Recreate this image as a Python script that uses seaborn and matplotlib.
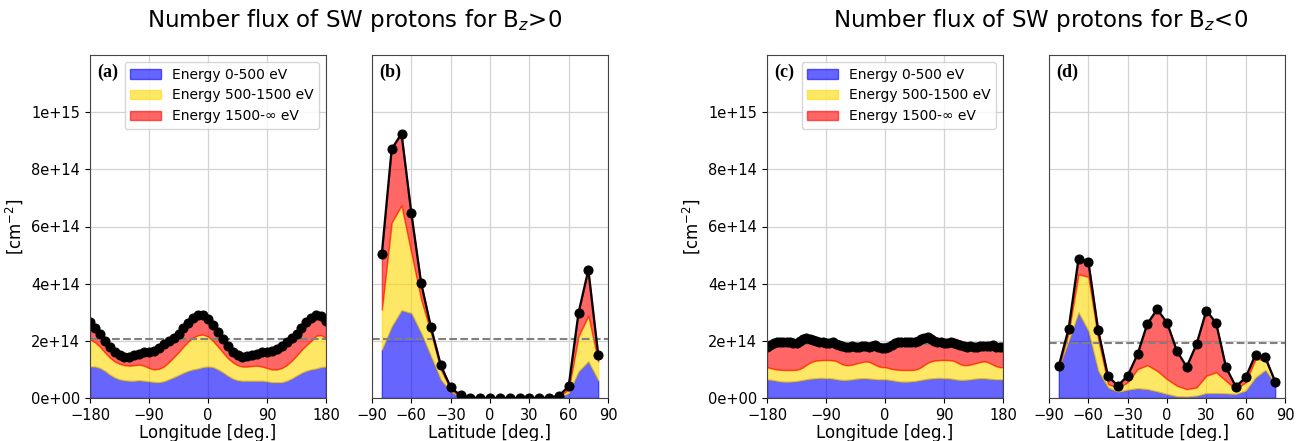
import numpy as np
import matplotlib
matplotlib.use("Agg")
import matplotlib.pyplot as plt
from matplotlib.ticker import FormatStrFormatter
import seaborn as sns

# values, in units of 1e14 cm^-2
UNIT = 1e14

# ---- (a) longitude, Bz>0 ----
lon_a = [-180, -172.5, -165, -157.5, -150, -142.5, -135, -127.5, -120, -112.5,
         -105, -97.5, -90, -82.5, -75, -67.5, -60, -52.5, -45, -37.5,
         -30, -22.5, -15, -7.5, 0, 7.5, 15, 22.5, 30, 37.5,
         45, 52.5, 60, 67.5, 75, 82.5, 90, 97.5, 105, 112.5,
         120, 127.5, 135, 142.5, 150, 157.5, 165, 172.5, 180]
total_a = [2.65, 2.45, 2.25, 2.0, 1.8, 1.62, 1.5, 1.45, 1.45, 1.5,
           1.55, 1.6, 1.6, 1.65, 1.75, 1.88, 2.0, 2.1, 2.25, 2.45,
           2.62, 2.8, 2.9, 2.92, 2.78, 2.55, 2.3, 2.05, 1.82, 1.62,
           1.5, 1.45, 1.47, 1.5, 1.55, 1.6, 1.6, 1.65, 1.72, 1.82,
           1.95, 2.1, 2.25, 2.45, 2.65, 2.8, 2.92, 2.88, 2.68]
mid_a = [2.05, 1.95, 1.8, 1.6, 1.42, 1.28, 1.2, 1.15, 1.13, 1.15,
         1.17, 1.13, 1.05, 1.0, 1.02, 1.1, 1.25, 1.42, 1.6, 1.8,
         1.98, 2.12, 2.2, 2.22, 2.15, 2.0, 1.8, 1.6, 1.4, 1.25,
         1.15, 1.1, 1.1, 1.12, 1.13, 1.1, 1.05, 1.0, 1.0, 1.05,
         1.15, 1.3, 1.48, 1.68, 1.85, 2.0, 2.18, 2.2, 2.1]
low_a = [1.1, 1.1, 1.05, 0.95, 0.82, 0.72, 0.65, 0.62, 0.6, 0.6,
         0.62, 0.6, 0.58, 0.56, 0.55, 0.58, 0.65, 0.72, 0.8, 0.88,
         0.95, 1.0, 1.03, 1.08, 1.1, 1.08, 1.0, 0.9, 0.78, 0.68,
         0.62, 0.6, 0.6, 0.6, 0.6, 0.6, 0.58, 0.55, 0.55, 0.55,
         0.6, 0.68, 0.78, 0.88, 0.95, 1.0, 1.03, 1.08, 1.1]
mean_a = 2.05

# ---- (b) and (d) latitude ----
lat = [-82.5, -75, -67.5, -60, -52.5, -45, -37.5, -30, -22.5, -15, -7.5, 0,
       7.5, 15, 22.5, 30, 37.5, 45, 52.5, 60, 67.5, 75, 82.5]
total_b = [5.05, 8.71, 9.25, 6.46, 4.01, 2.47, 1.14, 0.37, 0.09, 0.01, 0.0, 0.0,
           0.0, 0.0, 0.0, 0.0, 0.0, 0.01, 0.08, 0.41, 2.98, 4.48, 1.52]
mid_b = [3.09, 6.14, 6.74, 5.07, 3.44, 2.27, 0.99, 0.29, 0.06, 0.01, 0.0, 0.0,
         0.0, 0.0, 0.0, 0.0, 0.0, 0.01, 0.06, 0.29, 2.16, 2.88, 1.28]
low_b = [1.69, 2.5, 3.07, 2.97, 2.27, 1.46, 0.64, 0.23, 0.03, 0.0, 0.0, 0.0,
         0.0, 0.0, 0.0, 0.0, 0.0, 0.0, 0.03, 0.17, 0.93, 1.28, 0.62]
mean_b = 2.05

# ---- (c) longitude, Bz<0 ----
lon_c = [-180, -175, -170, -165, -160, -155, -150, -145, -140, -135,
         -130, -125, -120, -115, -110, -105, -100, -95, -90, -85,
         -80, -75, -70, -65, -60, -55, -50, -45, -40, -35,
         -30, -25, -20, -15, -10, -5, 0, 5, 10, 15,
         20, 25, 30, 35, 40, 45, 50, 55, 60, 65,
         70, 75, 80, 85, 90, 95, 100, 105, 110, 115,
         120, 125, 130, 135, 140, 145, 150, 155, 160, 165,
         170, 175, 180]
total_c = [1.80, 1.86, 1.92, 1.96, 1.97, 1.96, 1.97, 1.95, 1.94, 1.93,
           1.98, 2.06, 2.10, 2.08, 2.02, 1.98, 1.95, 1.95, 1.92, 1.94,
           1.95, 1.90, 1.85, 1.82, 1.80, 1.79, 1.81, 1.80, 1.79, 1.82,
           1.82, 1.80, 1.82, 1.84, 1.79, 1.76, 1.76, 1.80, 1.87, 1.92,
           1.95, 1.96, 1.97, 1.96, 1.95, 1.97, 2.00, 2.05, 2.10, 2.12,
           2.07, 2.00, 1.96, 1.95, 1.93, 1.94, 1.95, 1.92, 1.88, 1.84,
           1.82, 1.80, 1.81, 1.80, 1.79, 1.82, 1.83, 1.81, 1.83, 1.84,
           1.80, 1.77, 1.79]
mid_c = [1.08, 1.05, 1.02, 1.00, 0.99, 0.98, 0.98, 0.98, 0.98, 0.99,
         1.02, 1.08, 1.16, 1.23, 1.28, 1.31, 1.32, 1.33, 1.33, 1.33,
         1.32, 1.30, 1.24, 1.18, 1.15, 1.15, 1.17, 1.20, 1.23, 1.26,
         1.28, 1.27, 1.22, 1.16, 1.11, 1.08, 1.08, 1.05, 1.02, 1.00,
         0.99, 0.98, 0.98, 0.98, 0.98, 0.99, 1.02, 1.08, 1.16, 1.23,
         1.28, 1.31, 1.32, 1.33, 1.33, 1.33, 1.32, 1.30, 1.24, 1.18,
         1.15, 1.15, 1.17, 1.20, 1.23, 1.26, 1.28, 1.27, 1.22, 1.16,
         1.11, 1.08, 1.08]
low_c = [0.65, 0.64, 0.62, 0.60, 0.58, 0.57, 0.57, 0.57, 0.58, 0.59,
         0.61, 0.63, 0.65, 0.67, 0.68, 0.69, 0.70, 0.70, 0.69, 0.69,
         0.68, 0.66, 0.64, 0.63, 0.63, 0.64, 0.65, 0.67, 0.68, 0.69,
         0.69, 0.68, 0.67, 0.66, 0.65, 0.65, 0.65, 0.64, 0.62, 0.60,
         0.58, 0.57, 0.57, 0.57, 0.58, 0.59, 0.61, 0.63, 0.65, 0.67,
         0.68, 0.69, 0.70, 0.70, 0.69, 0.69, 0.68, 0.66, 0.64, 0.63,
         0.63, 0.64, 0.65, 0.67, 0.68, 0.69, 0.69, 0.68, 0.67, 0.66,
         0.65, 0.65, 0.65]
mean_c = 1.9

total_d = [1.13, 2.43, 4.87, 4.77, 2.37, 0.76, 0.43, 0.78, 1.53, 2.6, 3.1, 2.64,
           1.65, 1.09, 1.88, 3.06, 2.62, 1.07, 0.40, 0.72, 1.52, 1.42, 0.57]
mid_d = [1.07, 2.29, 4.33, 4.24, 2.06, 0.49, 0.35, 0.55, 1.01, 1.15, 0.95, 0.66,
         0.43, 0.31, 0.37, 0.78, 0.9, 0.6, 0.31, 0.55, 1.36, 1.34, 0.55]
low_d = [1.07, 2.0, 2.99, 2.35, 0.95, 0.37, 0.22, 0.29, 0.34, 0.31, 0.23, 0.14,
         0.06, 0.05, 0.08, 0.17, 0.17, 0.16, 0.14, 0.26, 0.72, 0.98, 0.49]
mean_d = 1.91

band_labels = ["Energy 0-500 eV", "Energy 500-1500 eV", "Energy 1500-\u221e eV"]
band_colors = ["blue", "gold", "red"]

fig = plt.figure(figsize=(13.03, 4.41), dpi=100)
W, H = 1303, 441
lefts = [90, 372, 767, 1049]
axes = [fig.add_axes([l / W, 1 - 398 / H, 236 / W, 343 / H]) for l in lefts]

panels = [
    (lon_a, low_a, mid_a, total_a, mean_a, "(a)", "Longitude [deg.]"),
    (lat, low_b, mid_b, total_b, mean_b, "(b)", "Latitude [deg.]"),
    (lon_c, low_c, mid_c, total_c, mean_c, "(c)", "Longitude [deg.]"),
    (lat, low_d, mid_d, total_d, mean_d, "(d)", "Latitude [deg.]"),
]

for i, (ax, (x, lo, mi, tot, mn, tag, xlab)) in enumerate(zip(axes, panels)):
    x = np.array(x)
    lo = np.array(lo) * UNIT
    mi = np.array(mi) * UNIT
    tot = np.array(tot) * UNIT
    ax.set_axisbelow(True)
    ax.grid(True, color="#d3d3d3", lw=0.9)
    ax.fill_between(x, 0, lo, color=band_colors[0], alpha=0.6, label=band_labels[0])
    ax.fill_between(x, lo, mi, color=band_colors[1], alpha=0.6, label=band_labels[1])
    ax.fill_between(x, mi, tot, color=band_colors[2], alpha=0.6, label=band_labels[2])
    ax.axhline(mn * UNIT, color="gray", ls="--", lw=1.5)
    sns.lineplot(x=x, y=tot, ax=ax, color="black", marker="o", markersize=6.5,
                 markeredgecolor="black", lw=1.6, legend=False)
    ax.set_ylim(0, 1.2e15)
    ax.set_yticks([0, 2e14, 4e14, 6e14, 8e14, 1e15])
    ax.yaxis.set_major_formatter(FormatStrFormatter("%.0e"))
    if i % 2 == 0:
        ax.set_xlim(-180, 180)
        ax.set_xticks([-180, -90, 0, 90, 180])
        ax.set_ylabel("[cm$^{-2}$]", fontsize=12)
        ax.legend(loc="upper right", fontsize=10, handlelength=2.2)
    else:
        ax.set_xlim(-90, 90)
        ax.set_xticks([-90, -60, -30, 0, 30, 60, 90])
        ax.set_yticklabels([])
        ax.tick_params(axis="y", length=0)
        ax.set_ylabel("")
    ax.set_xlabel(xlab, fontsize=12, labelpad=1)
    ax.tick_params(labelsize=10.5)
    for s in ax.spines.values():
        s.set_color("#444444")
    ax.text(0.03, 0.975, tag, transform=ax.transAxes, va="top", ha="left",
            fontsize=13, fontweight="bold", family="Liberation Serif")

fig.text(355 / W, 1 - 20 / H, "Number flux of SW protons for B$_z$>0",
         ha="center", va="center", fontsize=16.5)
fig.text(1041 / W, 1 - 20 / H, "Number flux of SW protons for B$_z$<0",
         ha="center", va="center", fontsize=16.5)

fig.savefig("out.png", dpi=100)
